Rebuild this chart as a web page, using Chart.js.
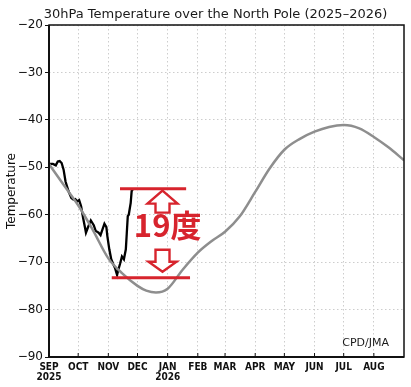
<!DOCTYPE html>
<html>
<head>
<meta charset="utf-8">
<script src="https://cdn.jsdelivr.net/npm/chart.js@4.4.1/dist/chart.umd.min.js"></script>
<style>
  html, body { margin: 0; padding: 0; background: #fff; }
  #wrap { width: 411px; height: 387px; }
</style>
</head>
<body>
<div id="wrap"><canvas id="c" width="411" height="387"></canvas></div>
<script>
// days counted from 1 Sep 2025
const monthStart = [0, 30, 61, 91, 122, 153, 181, 212, 242, 273, 303, 334];
const monthNames = ['SEP', 'OCT', 'NOV', 'DEC', 'JAN', 'FEB', 'MAR', 'APR', 'MAY', 'JUN', 'JUL', 'AUG'];
const yearNames = { 0: '2025', 122: '2026' };

// climatology (gray)
const climDay  = [0, 15, 30, 45, 61, 75, 91, 100, 110, 122, 137, 153, 167, 181, 196, 212, 227, 242, 258, 273, 288, 303, 319, 334, 349, 365];
const climTemp = [-49.3, -53.7, -58, -63.2, -69.2, -72.3, -75, -76, -76.4, -75.6, -71.7, -68, -65.6, -63.6, -60.4, -55.2, -50.2, -46.3, -44, -42.5, -41.5, -41.1, -41.8, -43.6, -45.8, -48.5];

// 2025 observed (black)
const obsDay  = [0, 4, 7, 9, 11, 13, 15, 17, 20, 23, 25, 27, 29, 31, 33, 35, 37, 38, 40, 43, 46, 48, 51, 53, 55, 57, 59, 60, 62, 64, 66, 68, 70, 71, 73, 75, 77, 79, 80, 81, 82, 84, 85, 86];
const obsTemp = [-49.3, -49.3, -49.6, -48.8, -48.7, -49.1, -50.5, -53, -55, -56.5, -56.8, -56.7, -57.2, -56.9, -58.2, -60.6, -62.7, -63.8, -62.7, -61.2, -62.2, -63.4, -63.8, -64.3, -63.1, -61.9, -62.6, -64.5, -67.3, -69.4, -70.4, -71.3, -72.7, -71.8, -70.4, -68.8, -69.4, -67.3, -63.8, -60.3, -60, -57.5, -55, -54.7];

// warming annotation
const warmTop = -54.5;
const warmBottom = -73.3;
const warmLabel = '19度';

const RED = '#d7242d';

const frame = {
  id: 'frame',
  afterDatasetsDraw(chart) {
    const ctx = chart.ctx;
    const a = chart.chartArea;
    const xs = chart.scales.x, ys = chart.scales.y;
    ctx.save();

    // red annotation
    const yt = ys.getPixelForValue(warmTop);
    const yb = ys.getPixelForValue(warmBottom);
    ctx.strokeStyle = RED;
    ctx.lineWidth = 3;
    ctx.beginPath();
    ctx.moveTo(xs.getPixelForValue(73), yt); ctx.lineTo(xs.getPixelForValue(141), yt);
    ctx.moveTo(xs.getPixelForValue(64.5), yb); ctx.lineTo(xs.getPixelForValue(145), yb);
    ctx.stroke();

    const cx = xs.getPixelForValue(116.7);
    ctx.lineWidth = 2.4;
    ctx.lineJoin = 'miter';
    // up arrow
    let t = yt + 2;
    ctx.beginPath();
    ctx.moveTo(cx, t);
    ctx.lineTo(cx + 15, t + 13);
    ctx.lineTo(cx + 7, t + 13);
    ctx.lineTo(cx + 7, t + 22);
    ctx.lineTo(cx - 7, t + 22);
    ctx.lineTo(cx - 7, t + 13);
    ctx.lineTo(cx - 15, t + 13);
    ctx.closePath();
    ctx.fillStyle = '#fff';
    ctx.fill();
    ctx.stroke();
    // down arrow
    t = yb - 6;
    ctx.beginPath();
    ctx.moveTo(cx, t);
    ctx.lineTo(cx + 14, t - 10);
    ctx.lineTo(cx + 7, t - 10);
    ctx.lineTo(cx + 7, t - 22);
    ctx.lineTo(cx - 7, t - 22);
    ctx.lineTo(cx - 7, t - 10);
    ctx.lineTo(cx - 14, t - 10);
    ctx.closePath();
    ctx.fill();
    ctx.stroke();

    ctx.fillStyle = RED;
    ctx.font = '600 31px "Noto Sans CJK JP"';
    ctx.textAlign = 'center';
    ctx.textBaseline = 'alphabetic';
    ctx.fillText(warmLabel, xs.getPixelForValue(122), ys.getPixelForValue(-64.6));

    // frame
    ctx.strokeStyle = '#111';
    ctx.lineWidth = 1.5;
    ctx.strokeRect(a.left, a.top, a.right - a.left, a.bottom - a.top);
    ctx.lineWidth = 2;
    ctx.beginPath();
    ctx.moveTo(a.left, a.top); ctx.lineTo(a.left, a.bottom); ctx.lineTo(a.right, a.bottom);
    ctx.stroke();
    // small inward ticks on the x axis
    ctx.lineWidth = 1;
    ctx.beginPath();
    xs.ticks.forEach(tk => {
      const px = xs.getPixelForValue(tk.value);
      ctx.moveTo(px, a.bottom); ctx.lineTo(px, a.bottom - 4);
    });
    ctx.stroke();

    // title + credit
    ctx.fillStyle = '#1a1a1a';
    ctx.font = '13px "DejaVu Sans"';
    ctx.textAlign = 'center';
    ctx.fillText('30hPa Temperature over the North Pole (2025–2026)', 215.5, 18);
    ctx.font = '11px "DejaVu Sans"';
    ctx.textAlign = 'right';
    ctx.fillText('CPD/JMA', a.right - 15, a.bottom - 11);
    ctx.restore();
  }
};

new Chart(document.getElementById('c'), {
  type: 'line',
  data: {
    datasets: [
      {
        label: 'Climatology',
        data: climDay.map((d, i) => ({ x: d, y: climTemp[i] })),
        borderColor: '#8e8e8e',
        borderWidth: 2.5,
        pointRadius: 0,
        cubicInterpolationMode: 'monotone'
      },
      {
        label: '2025',
        data: obsDay.map((d, i) => ({ x: d, y: obsTemp[i] })),
        borderColor: '#000',
        borderWidth: 2.3,
        pointRadius: 0,
        tension: 0
      }
    ]
  },
  options: {
    animation: false,
    responsive: false,
    devicePixelRatio: 1,
    layout: { padding: { top: 25, right: 7, left: 0, bottom: 0 } },
    plugins: { legend: { display: false }, title: { display: false }, tooltip: { enabled: false } },
    scales: {
      x: {
        type: 'linear',
        min: 0,
        max: 365,
        afterFit: s => { s.height = 30; },
        afterBuildTicks: s => { s.ticks = monthStart.map(v => ({ value: v })); },
        grid: { color: '#cdcdcd', lineWidth: 1, drawTicks: false },
        border: { display: false, dash: [1.5, 2.5] },
        ticks: {
          autoSkip: false,
          maxRotation: 0,
          padding: 5,
          color: '#111',
          font: { family: '"Liberation Sans Narrow", "DejaVu Sans Condensed", sans-serif', size: 10, weight: 'bold', lineHeight: 1.05 },
          callback: v => {
            const i = monthStart.indexOf(v);
            if (i < 0) return '';
            return yearNames[v] ? [monthNames[i], yearNames[v]] : monthNames[i];
          }
        }
      },
      y: {
        min: -90,
        max: -20,
        afterFit: s => { s.width = 49; },
        grid: { color: '#cdcdcd', lineWidth: 1, tickLength: 4, tickColor: '#111', tickWidth: 1 },
        border: { display: false, dash: [1.5, 2.5] },
        ticks: {
          stepSize: 10,
          padding: 2,
          color: '#111',
          font: { family: '"DejaVu Sans"', size: 12 },
          callback: v => '−' + Math.abs(v)
        },
        title: {
          display: true,
          text: 'Temperature',
          color: '#111',
          font: { family: '"DejaVu Sans"', size: 12 },
          padding: { top: 5, bottom: 0 }
        }
      }
    }
  },
  plugins: [frame]
});
</script>
</body>
</html>
